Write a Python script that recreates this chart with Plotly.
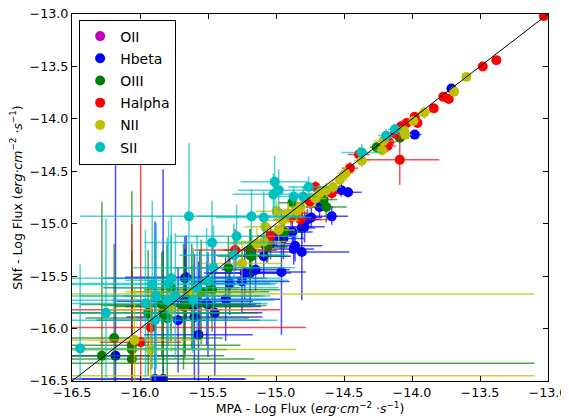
import plotly.graph_objects as go

# ---------------- data (log flux) ----------------
oii_x = [None]
oii_y = [None]
oii_xerr = [0.0]
oii_yerr = [0.0]

hbeta_x = [-13.71, -13.98, -14.47, -14.52, -14.68, -14.74, -14.59, -14.77, -14.79, -14.81,
           -14.88, -14.945, -14.995, -14.86, -15.04, -15.07, -14.87, -14.81, -14.96, -15.09,
           -15.15, -15.19, -15.23, -15.34, -15.25, -15.67, -15.56, -15.37, -15.50, -15.61,
           -15.67, -15.51, -15.45, -15.72, -15.60, -15.57, -16.18, -15.89, -15.83, -15.66]
hbeta_y = [-13.71, -14.15, -14.70, -14.68, -14.84, -14.94, -14.93, -14.96, -15.03, -15.04,
           -15.08, -15.14, -15.12, -15.21, -15.19, -15.22, -15.24, -15.27, -15.46, -15.31,
           -15.44, -15.47, -15.47, -15.57, -15.55, -15.52, -15.65, -15.72, -15.77, -15.79,
           -15.74, -15.76, -15.85, -15.92, -15.89, -16.06, -16.26, -16.48, -16.48, -15.51]
hbeta_xerr = [0.02, 0.05, 0.10, 0.06, 0.10, 0.08, 0.12, 0.10, 0.15, 0.10,
              0.15, 0.15, 0.12, 0.20, 0.15, 0.15, 0.15, 0.35, 0.18, 0.20,
              0.25, 0.30, 0.30, 0.30, 0.35, 0.60, 0.40, 0.40, 0.35, 0.50,
              0.50, 0.40, 0.35, 0.60, 0.50, 0.40, 0.50, 0.67, 0.60, 0.45]
hbeta_yerr = [0.02, 0.04, 0.05, 0.06, 0.10, 0.10, 0.08, 0.10, 0.15, 0.10,
              0.12, 0.20, 0.10, 0.15, 0.15, 0.15, 0.15, 0.46, 0.60, 0.20,
              0.20, 0.30, 0.25, 0.30, 0.30, 0.40, 0.40, 0.40, 0.50, 0.40,
              0.50, 0.40, 0.60, 0.50, 0.60, 0.70, 1.90, 1.50, 2.00, 0.40]

oiii_x = [-14.09, -14.26, -14.65, -14.63, -14.88, -14.94, -15.19, -15.19, -15.18, -15.06,
          -15.35, -15.47, -15.67, -15.84, -15.77, -15.62, -15.55, -15.68, -15.83, -15.94,
          -15.80, -16.19, -16.06, -16.06, -16.28, -16.06, -16.70]
oiii_y = [-14.18, -14.27, -14.77, -14.84, -14.80, -15.08, -15.30, -15.25, -15.31, -15.22,
          -15.42, -15.63, -15.78, -15.77, -15.61, -15.69, -15.65, -15.79, -15.85, -15.85,
          -15.90, -16.09, -16.16, -16.20, -16.26, -16.29, -16.33]
oiii_xerr = [0.05, 0.05, 0.10, 0.15, 0.10, 0.15, 0.25, 0.20, 0.25, 0.15,
             0.40, 0.50, 0.60, 0.60, 0.50, 0.50, 0.50, 0.50, 0.70, 0.70,
             0.60, 0.80, 0.80, 0.70, 0.90, 0.90, 3.60]
oiii_yerr = [0.05, 0.05, 0.10, 0.15, 0.10, 0.15, 0.25, 0.20, 0.20, 0.15,
             0.30, 0.40, 0.50, 0.50, 0.50, 0.50, 0.50, 0.60, 0.60, 0.60,
             0.70, 0.90, 0.90, 0.80, 1.47, 1.60, 0.00]

halpha_x = [-13.03, -13.38, -13.48, -13.77, -13.73, -13.84, -13.96, -13.98, -14.04, -14.08,
            -14.09, -14.125, -14.17, -14.18, -14.39, -14.456, -14.59, -14.71, -14.75, -14.84,
            -14.89, -14.82, -15.04, -15.30, -15.77, -15.92, -15.995, -16.06]
halpha_y = [-13.02, -13.44, -13.50, -13.79, -13.81, -13.90, -14.04, -13.98, -14.04, -14.07,
            -14.39, -14.14, -14.22, -14.26, -14.34, -14.47, -14.71, -14.65, -14.79, -14.90,
            -14.94, -14.96, -15.12, -15.25, -15.82, -15.99, -16.13, -16.55]
halpha_xerr = [0.02, 0.02, 0.02, 0.02, 0.02, 0.03, 0.03, 0.03, 0.04, 0.04,
               0.29, 0.05, 0.05, 0.06, 0.08, 0.06, 0.06, 0.06, 0.07, 0.08,
               0.08, 0.20, 0.10, 0.30, 0.80, 1.14, 0.30, 0.40]
halpha_yerr = [0.02, 0.02, 0.02, 0.02, 0.02, 0.03, 0.03, 0.03, 0.04, 0.04,
               0.24, 0.05, 0.05, 0.06, 0.07, 0.06, 0.06, 0.06, 0.07, 0.08,
               0.08, 0.08, 0.10, 0.20, 0.30, 0.40, 1.70, 1.55]

nii_x = [-13.60, -13.69, -13.91, -13.99, -14.06, -14.05, -14.21, -14.22, -14.37, -14.49,
         -14.53, -14.58, -14.63, -14.68, -14.71, -14.82, -14.85, -14.91, -14.995, -14.95,
         -14.98, -15.08, -15.09, -15.14, -15.25, -15.61, -15.77, -16.04, -15.92, -16.70, -16.70]
nii_y = [-13.60, -13.74, -13.94, -14.02, -14.11, -14.15, -14.21, -14.30, -14.40, -14.52,
         -14.58, -14.65, -14.68, -14.71, -14.76, -14.84, -14.88, -14.90, -14.88, -14.97,
         -15.06, -15.03, -15.17, -15.19, -15.38, -15.65, -15.82, -16.11, -16.20, -15.67, -16.45]
nii_xerr = [0.02, 0.02, 0.06, 0.04, 0.04, 0.05, 0.07, 0.05, 0.06, 0.06,
            0.06, 0.06, 0.07, 0.08, 0.08, 0.10, 0.10, 0.10, 0.15, 0.12,
            0.12, 0.15, 0.20, 0.20, 0.30, 0.50, 0.50, 0.50, 1.07, 3.60, 3.60]
nii_yerr = [0.02, 0.02, 0.06, 0.04, 0.04, 0.05, 0.07, 0.05, 0.06, 0.06,
            0.06, 0.06, 0.07, 0.08, 0.08, 0.10, 0.10, 0.10, 0.10, 0.10,
            0.10, 0.12, 0.15, 0.15, 0.20, 0.40, 0.40, 0.50, 0.60, 0.00, 0.00]

sii_x = [-14.125, -14.19, -14.37, -14.76, -14.80, -14.87, -15.01, -15.02, -14.98, -15.18,
         -15.09, -15.29, -15.64, -15.47, -15.31, -15.46, -15.51, -15.77, -15.79, -15.58,
         -15.61, -15.74, -15.80, -15.96, -15.91, -15.88, -15.89, -16.25, -16.44]
sii_y = [-14.10, -14.16, -14.32, -14.65, -14.74, -14.74, -14.60, -14.72, -14.68, -14.93,
         -14.94, -15.12, -14.93, -15.18, -15.30, -15.42, -15.54, -15.52, -15.57, -15.61,
         -15.73, -15.69, -15.73, -15.76, -15.58, -15.69, -15.92, -15.85, -16.19]
sii_xerr = [0.05, 0.06, 0.15, 0.15, 0.10, 0.15, 0.25, 0.30, 0.30, 0.40,
            0.35, 0.45, 0.80, 0.50, 0.40, 0.60, 0.60, 0.80, 0.80, 0.60,
            0.60, 0.70, 0.70, 0.90, 0.90, 0.80, 0.90, 1.00, 1.00]
sii_yerr = [0.05, 0.06, 0.08, 0.10, 0.10, 0.10, 0.25, 0.20, 0.20, 0.25,
            0.25, 0.30, 0.70, 0.40, 0.30, 0.40, 0.50, 0.60, 0.60, 0.50,
            0.50, 0.60, 0.60, 0.70, 0.80, 0.70, 0.80, 0.90, 0.80]

axis_range = [-16.5, -13.0]
tick_vals = [-16.5, -16.0, -15.5, -15.0, -14.5, -14.0, -13.5, -13.0]

series = [
    ("OII", oii_x, oii_y, oii_xerr, oii_yerr, "#BF00BF", "rgba(191,0,191,0.7)"),
    ("Hbeta", hbeta_x, hbeta_y, hbeta_xerr, hbeta_yerr, "#0000FF", "rgba(0,0,255,0.7)"),
    ("OIII", oiii_x, oiii_y, oiii_xerr, oiii_yerr, "#008000", "rgba(0,128,0,0.7)"),
    ("Halpha", halpha_x, halpha_y, halpha_xerr, halpha_yerr, "#FF0000", "rgba(255,0,0,0.7)"),
    ("NII", nii_x, nii_y, nii_xerr, nii_yerr, "#BFBF00", "rgba(191,191,0,0.75)"),
    ("SII", sii_x, sii_y, sii_xerr, sii_yerr, "#00BFBF", "rgba(0,191,191,0.7)"),
]

fig = go.Figure()
for name, xs, ys, xe, ye, col, ecol in series:
    fig.add_trace(go.Scatter(
        x=xs, y=ys, mode="markers", name=name, legendgroup=name,
        marker=dict(color=col, size=10, line=dict(width=0)),
        error_x=dict(type="data", array=xe, visible=True, color=ecol, thickness=1.5, width=0),
        error_y=dict(type="data", array=ye, visible=True, color=ecol, thickness=1.5, width=0),
    ))

fig.add_trace(go.Scatter(x=axis_range, y=axis_range, mode="lines",
                         line=dict(color="black", width=1), showlegend=False, hoverinfo="skip"))

axis_common = dict(range=axis_range, tickvals=tick_vals, tickformat=".1f",
                   showline=True, linecolor="black", linewidth=1, mirror="ticks",
                   ticks="inside", ticklen=5, tickcolor="black", showgrid=False, zeroline=False,
                   automargin=False, ticklabeloverflow="allow",
                   tickfont=dict(family="DejaVu Sans", size=12.7, color="black"))

fig.update_layout(
    width=569, height=416,
    margin=dict(l=64, r=29, t=6, b=43, autoexpand=False),
    paper_bgcolor="white", plot_bgcolor="white",
    font=dict(family="DejaVu Sans", size=12, color="black"),
    xaxis=dict(title=dict(text="MPA - Log Flux (<i>erg·cm</i><sup>−2</sup> <i>·s</i><sup>−1</sup>)",
                          font=dict(size=12.5), standoff=2), **axis_common),
    yaxis=dict(title=dict(text="SNf - Log Flux (<i>erg·cm</i><sup>−2</sup> <i>·s</i><sup>−1</sup>)",
                          font=dict(size=12.5), standoff=4), **axis_common),
    legend=dict(x=0.015, y=0.985, xanchor="left", yanchor="top",
                bordercolor="black", borderwidth=1, bgcolor="white",
                font=dict(size=14), itemwidth=30, tracegroupgap=1),
    showlegend=True,
)

fig.write_html("out.html")
